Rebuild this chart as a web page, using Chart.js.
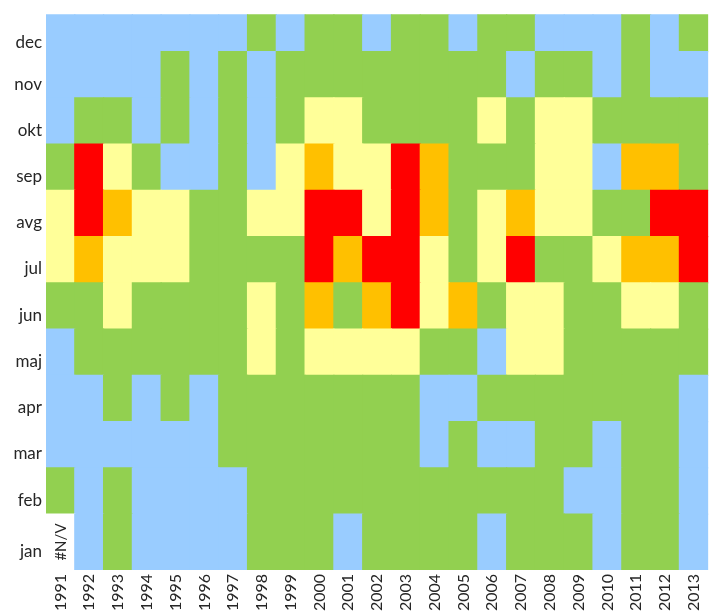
<!DOCTYPE html>
<html>
<head>
<meta charset="utf-8">
<script src="https://cdn.jsdelivr.net/npm/chart.js@4/dist/chart.umd.min.js"></script>
<style>
html,body{margin:0;padding:0;background:#ffffff;}
#wrap{width:717px;height:615px;position:relative;}
</style>
</head>
<body>
<div id="wrap"><canvas id="c" width="717" height="615"></canvas></div>
<script>
// ---- DATA ----
const years = ['1991','1992','1993','1994','1995','1996','1997','1998','1999','2000','2001','2002',
               '2003','2004','2005','2006','2007','2008','2009','2010','2011','2012','2013'];
const months = ['jan','feb','mar','apr','maj','jun','jul','avg','sep','okt','nov','dec'];
// class codes: 0 = #N/V, 1 = blue, 2 = green, 3 = light yellow, 4 = orange, 5 = red
const jan = [0,1,2,1,1,1,1,2,2,2,1,2,2,2,2,1,2,2,2,1,2,2,1];
const feb = [2,1,2,1,1,1,1,2,2,2,2,2,2,2,2,2,2,2,1,1,2,2,1];
const mar = [1,1,1,1,1,1,2,2,2,2,2,2,2,1,2,1,1,2,2,1,2,2,1];
const apr = [1,1,2,1,2,1,2,2,2,2,2,2,2,1,1,2,2,2,2,2,2,2,1];
const maj = [1,2,2,2,2,2,2,3,2,3,3,3,3,2,2,1,3,3,2,2,2,2,2];
const jun = [2,2,3,2,2,2,2,3,2,4,2,4,5,3,4,2,3,3,2,2,3,3,2];
const jul = [3,4,3,3,3,2,2,2,2,5,4,5,5,3,2,3,5,2,2,3,4,4,5];
const avg = [3,5,4,3,3,2,2,3,3,5,5,3,5,4,2,3,4,3,3,2,2,5,5];
const sep = [2,5,3,2,1,1,2,1,3,4,3,3,5,4,2,2,2,3,3,1,4,4,2];
const okt = [1,2,2,1,2,1,2,1,2,3,3,2,2,2,2,3,2,3,3,2,2,2,2];
const nov = [1,1,1,1,2,1,2,1,2,2,2,2,2,2,2,2,1,2,2,1,2,1,1];
const dec = [1,1,1,1,1,1,1,2,1,2,2,1,2,2,1,2,2,1,1,1,2,1,2];
const monthValues = [jan,feb,mar,apr,maj,jun,jul,avg,sep,okt,nov,dec];
const naLabel = '#N/V';

// ---- STYLE ----
const palette = ['#FFFFFF','#99CCFF','#92D050','#FFFF99','#FFC000','#FF0000'];
const Y_MIN = -0.21, Y_MAX = 11.81, LABEL_SHIFT = 0.2;
const XFONT = {family:'Lato', size:16};
const YFONT = {family:'Lato', size:17};
const TXT = '#262626';

function rowLow(i){ return i === 0 ? Y_MIN : i; }
function rowHigh(i){ return i === months.length - 1 ? Y_MAX : i + 1; }

const datasets = months.map((m, i) => ({
  label: m,
  data: monthValues[i].map(() => [rowLow(i), rowHigh(i)]),
  backgroundColor: monthValues[i].map(v => palette[v]),
  borderWidth: 0,
  barPercentage: 1,
  categoryPercentage: 1,
  inflateAmount: 0.6,
  grouped: false,
  clip: 0
}));

const naPlugin = {
  id: 'naPlugin',
  afterDatasetsDraw(chart) {
    const ctx = chart.ctx, xs = chart.scales.x, ys = chart.scales.y;
    ctx.save();
    ctx.fillStyle = TXT;
    ctx.font = '15px Lato';
    ctx.textAlign = 'center';
    ctx.textBaseline = 'middle';
    monthValues.forEach((row, i) => {
      row.forEach((v, j) => {
        if (v !== 0) return;
        const x = xs.getPixelForValue(j);
        const y = ys.getPixelForValue((rowLow(i) + rowHigh(i)) / 2);
        ctx.save();
        ctx.translate(x + 1, y);
        ctx.rotate(-Math.PI / 2);
        ctx.fillText(naLabel, 0, 0);
        ctx.restore();
      });
    });
    ctx.restore();
  }
};

new Chart(document.getElementById('c'), {
  type: 'bar',
  data: { labels: years, datasets },
  options: {
    responsive: false,
    animation: false,
    devicePixelRatio: 1,
    layout: { padding: { top: 13, right: 0, left: 0, bottom: 0 } },
    plugins: { legend: { display: false }, tooltip: { enabled: false } },
    scales: {
      x: {
        type: 'category',
        grid: { display: false, drawTicks: false },
        border: { display: false },
        ticks: { minRotation: 90, maxRotation: 90, padding: 4, font: XFONT, color: TXT, autoSkip: false },
        afterFit(s) { s.height = 45; }
      },
      y: {
        type: 'linear',
        min: Y_MIN, max: Y_MAX,
        grid: { display: false, drawTicks: false },
        border: { display: false },
        afterBuildTicks(axis) {
          axis.ticks = months.map((m, i) => ({ value: (rowLow(i) + rowHigh(i)) / 2 - LABEL_SHIFT }));
        },
        ticks: {
          padding: 4, font: YFONT, color: TXT, autoSkip: false,
          callback: (v, idx) => months[idx]
        },
        afterFit(s) { s.width = 46; }
      }
    }
  },
  plugins: [naPlugin]
});
</script>
</body>
</html>
